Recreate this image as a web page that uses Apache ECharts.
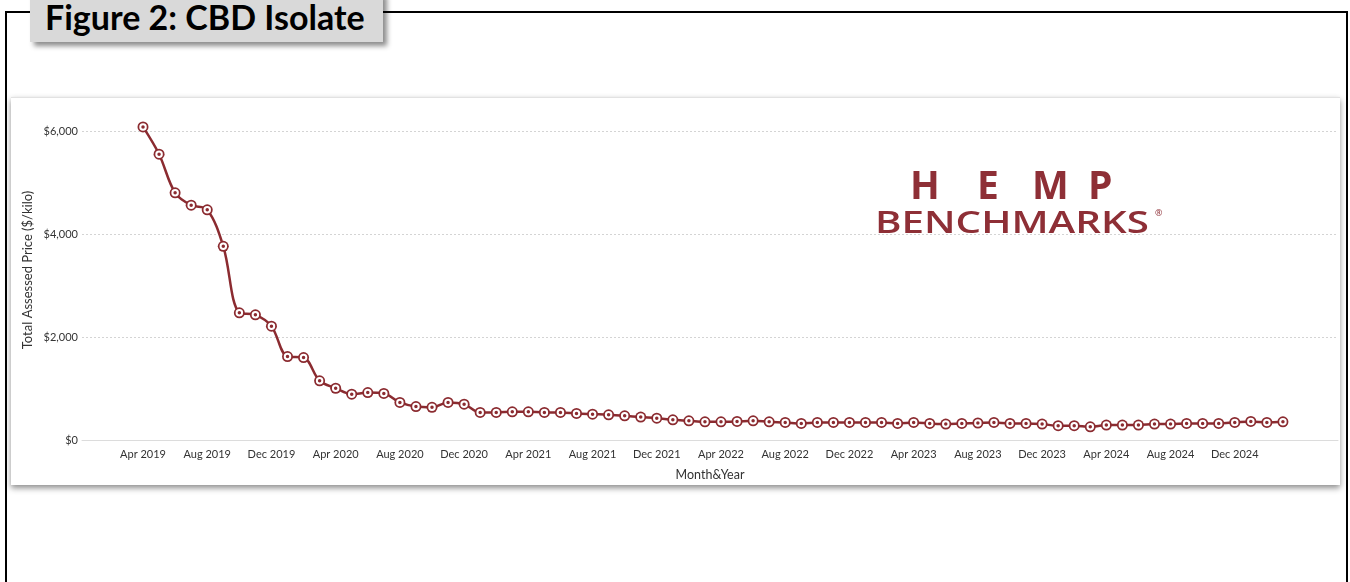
<!DOCTYPE html>
<html>
<head>
<meta charset="utf-8">
<script src="https://cdn.jsdelivr.net/npm/echarts@6/dist/echarts.min.js"></script>
<style>
  html, body { margin: 0; padding: 0; background: #fff; width: 1350px; height: 582px; overflow: hidden; }
  #frame { position: absolute; left: 5px; top: 11px; width: 1343px; height: 620px; border: 2px solid #000; box-sizing: border-box; }
  #title { position: absolute; left: 30px; top: -8px; width: 353px; height: 50px; background: #d9d9d9;
           box-shadow: 4px 4px 5px rgba(0,0,0,0.45); box-sizing: border-box; padding-left: 15px; padding-top: 1px;
           font-family: Lato, "Open Sans", sans-serif; font-weight: bold; font-size: 34px; line-height: 48px; color: #000; white-space: nowrap; }
  #card { position: absolute; left: 11px; top: 97px; width: 1329px; height: 388px; background: #fff;
          border-top: 1px solid #e2e2e2; box-sizing: border-box;
          box-shadow: 0 3px 6px rgba(0,0,0,0.45); }
  #chart { position: absolute; left: 0; top: 0; width: 1329px; height: 388px; }
</style>
</head>
<body>
<div id="frame"></div>
<div id="title">Figure 2: CBD Isolate</div>
<div id="card"><div id="chart"></div></div>
<script>
// Monthly periods, Apr 2019 - Mar 2025
const months = [
  'Apr 2019','May 2019','Jun 2019','Jul 2019','Aug 2019','Sep 2019','Oct 2019','Nov 2019','Dec 2019',
  'Jan 2020','Feb 2020','Mar 2020','Apr 2020','May 2020','Jun 2020','Jul 2020','Aug 2020','Sep 2020','Oct 2020','Nov 2020','Dec 2020',
  'Jan 2021','Feb 2021','Mar 2021','Apr 2021','May 2021','Jun 2021','Jul 2021','Aug 2021','Sep 2021','Oct 2021','Nov 2021','Dec 2021',
  'Jan 2022','Feb 2022','Mar 2022','Apr 2022','May 2022','Jun 2022','Jul 2022','Aug 2022','Sep 2022','Oct 2022','Nov 2022','Dec 2022',
  'Jan 2023','Feb 2023','Mar 2023','Apr 2023','May 2023','Jun 2023','Jul 2023','Aug 2023','Sep 2023','Oct 2023','Nov 2023','Dec 2023',
  'Jan 2024','Feb 2024','Mar 2024','Apr 2024','May 2024','Jun 2024','Jul 2024','Aug 2024','Sep 2024','Oct 2024','Nov 2024','Dec 2024',
  'Jan 2025','Feb 2025','Mar 2025'
];

// Total assessed price, $/kilo
const prices = [
  6080, 5550, 4800, 4560, 4470, 3760, 2470, 2430, 2210,
  1620, 1600, 1150, 1005, 890, 920, 905, 730, 650, 635, 730, 695,
  535, 535, 548, 548, 535, 535, 515, 502, 490, 470, 445, 424,
  392, 373, 353, 353, 360, 373, 353, 341, 322, 341, 341, 341,
  341, 341, 322, 341, 322, 309, 322, 330, 341, 322, 322, 309,
  277, 277, 257, 290, 290, 290, 309, 309, 322, 322, 322, 341,
  360, 341, 353
];

// Labelled months on the x axis
const xTickLabels = [
  'Apr 2019','Aug 2019','Dec 2019','Apr 2020','Aug 2020','Dec 2020','Apr 2021','Aug 2021','Dec 2021',
  'Apr 2022','Aug 2022','Dec 2022','Apr 2023','Aug 2023','Dec 2023','Apr 2024','Aug 2024','Dec 2024'
];

// Price axis: $0 to $6,000 in $2,000 steps
const yMin = 0;
const yMax = 6000;
const yStep = 2000;

const lineColor = '#8b2b30';
const brand = '#8e2f36';

const points = prices.map((v, i) => [i, v]);
const tickIdx = xTickLabels.map(l => months.indexOf(l));

const chart = echarts.init(document.getElementById('chart'), null, { renderer: 'canvas' });

const logoFont = 'bold 39px "Open Sans"';

const option = {
  animation: false,
  textStyle: { fontFamily: 'Lato, "Open Sans", sans-serif' },
  grid: { left: 71, right: 2, top: 33, bottom: 44 },
  xAxis: {
    type: 'value',
    min: -3.8,
    max: 74.43,
    name: 'Month&Year',
    nameLocation: 'middle',
    nameGap: 28,
    nameTextStyle: { color: '#333', fontSize: 12.5, fontFamily: 'Lato' },
    axisLine: { show: true, lineStyle: { color: '#dcdcdc', width: 1 } },
    axisTick: { show: false },
    splitLine: { show: false },
    axisLabel: {
      customValues: tickIdx,
      formatter: v => months[Math.round(v)] || '',
      color: '#333',
      fontSize: 11,
      margin: 9
    }
  },
  yAxis: {
    type: 'value',
    min: yMin,
    max: yMax,
    interval: yStep,
    axisLine: { show: false },
    axisTick: { show: false },
    axisLabel: {
      formatter: v => '$' + v.toLocaleString('en-US'),
      color: '#333',
      fontSize: 11,
      margin: 4
    },
    splitLine: {
      show: true,
      lineStyle: { color: '#d4d4d4', type: [2, 2], width: 1 }
    }
  },
  graphic: [
    { type: 'text', x: 17, y: 172, rotation: Math.PI / 2,
      style: { text: 'Total Assessed Price ($/kilo)', fill: '#333', font: '13px Lato', align: 'center', verticalAlign: 'middle' } },
    { type: 'text', x: 899, y: 70, style: { text: 'H', fill: brand, font: logoFont, verticalAlign: 'top' } },
    { type: 'text', x: 966, y: 70, style: { text: 'E', fill: brand, font: logoFont, verticalAlign: 'top' } },
    { type: 'text', x: 1021, y: 70, style: { text: 'M', fill: brand, font: logoFont, verticalAlign: 'top' } },
    { type: 'text', x: 1077, y: 70, style: { text: 'P', fill: brand, font: logoFont, verticalAlign: 'top' } },
    { type: 'text', x: 864, y: 111, scaleX: 1.3, style: { text: 'BENCHMARKS', fill: brand, font: '600 31px "Open Sans"', verticalAlign: 'top' } },
    { type: 'text', x: 1144, y: 111, style: { text: '®', fill: brand, font: '9px "Open Sans"', verticalAlign: 'top' } }
  ],
  series: [
    {
      type: 'line',
      data: points,
      smooth: 0.35,
      clip: false,
      symbol: 'circle',
      symbolSize: 11,
      itemStyle: { color: lineColor },
      lineStyle: { color: lineColor, width: 2.5 },
      z: 2
    },
    {
      type: 'line',
      data: points,
      clip: false,
      symbol: 'circle',
      symbolSize: 5.5,
      itemStyle: { color: lineColor, borderColor: '#fff', borderWidth: 2 },
      lineStyle: { opacity: 0 },
      z: 3
    }
  ]
};

chart.setOption(option);
</script>
</body>
</html>
